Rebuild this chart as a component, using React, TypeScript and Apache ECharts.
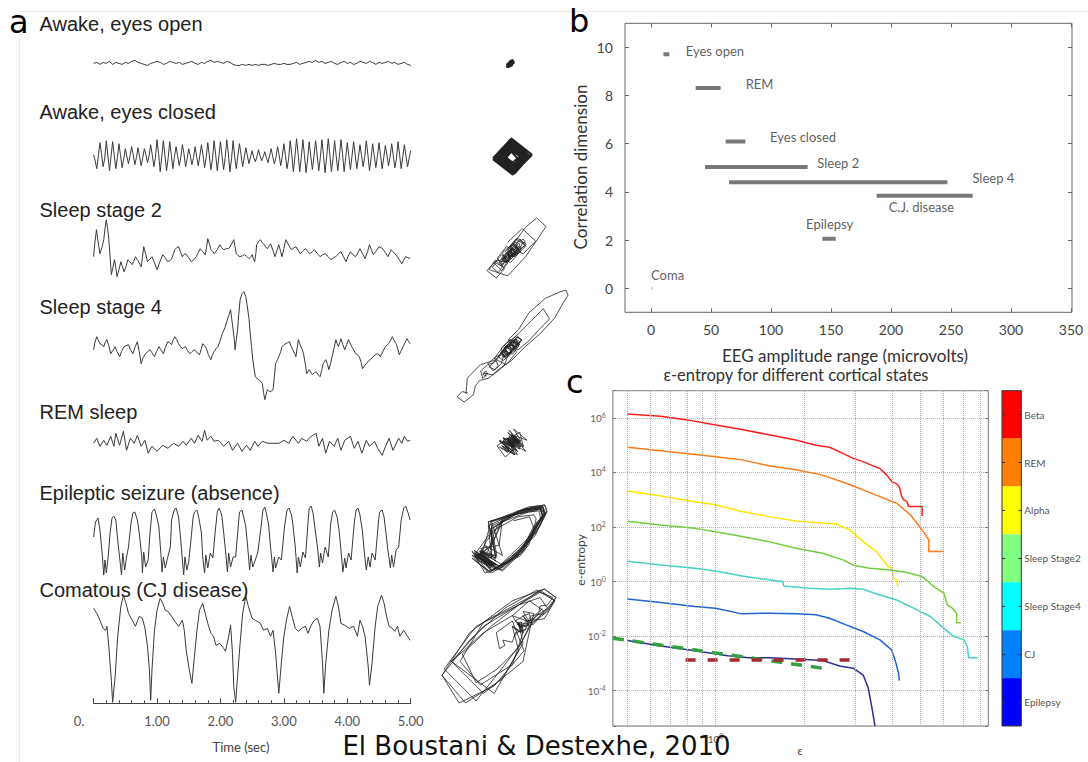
import React, { useEffect, useRef } from "react";
import * as echarts from "echarts";

const FONT_A = "'Liberation Sans', Arial, Helvetica, sans-serif";
const FONT_G = "Lato, 'Open Sans', sans-serif";
const FONT_D = "'DejaVu Sans', sans-serif";

/* ---------------- panel a : EEG traces (time in s, amplitude in a.u.) ---------------- */
const TRACE_NAMES = [
  "Awake, eyes open",
  "Awake, eyes closed",
  "Sleep stage 2",
  "Sleep stage 4",
  "REM sleep",
  "Epileptic seizure (absence)",
  "Comatous (CJ disease)",
];
const TIME_TICK_LABELS = ["0.", "1.00", "2.00", "3.00", "4.00", "5.00"];

// uniformly sampled over 0..5 s
const EYES_OPEN = [
  0, 1, -1, 1, 0, 2, -1, 1, 0, -1,
  1, 0, 2, 3, 1, 0, -1, -2, 0, 1,
  2, 1, -1, 0, 2, 1, 0, 1, -1, 0,
  1, 2, 0, -1, 1, 0, 2, 3, 1, 2,
  1, 0, 2, 1, -1, -2, -2, -1, -2, -1,
  -2, -1, -2, -1, -1, -2, -1, 0, -1, -1,
  0, -1, -1, 0, 1, -1, 0, 1, 2, 1,
  3, 1, 2, 0, 1, 2, 0, -1, 1, 2,
  0, 1, -1, 0, 2, 1, 0, 2, 1, -1,
  1, 0, 1, 2, 0, 1, -1, 0, 1, -1,
  -2,
];
const EYES_CLOSED = [
  2, -4, -12, 1, 14, 3, -10, -2, 16, 1, -14, 0, 15, 2, -12, -1, 13, 1, -11, -2,
  8, 0, -7, 1, 10, 2, -8, -1, 9, 0, -9, -1, 8, 2, -6, 1, 12, 2, -10, -1,
  17, 3, -15, 0, 16, 1, -14, -2, 15, 2, -12, 0, 10, 1, -9, -1, 12, 3, -10, -2,
  8, 1, -8, -1, 10, 0, -9, 1, 12, 2, -11, -1, 14, 1, -13, -2, 16, 2, -14, 0,
  15, 1, -13, -1, 17, 3, -15, -2, 16, 0, -12, 1, 13, 2, -10, -1, 9, 1, -7, 0,
  6, -1, -5, 0, 7, 1, -4, 0, 5, -1, -6, 1, 8, 0, -7, -1, 10, 2, -9, 0,
  13, 1, -12, -2, 16, 2, -15, 0, 18, 3, -15, -1, 17, 1, -16, -2, 15, 0, -13, 1,
  16, 2, -14, -1, 17, 1, -16, 0, 18, 2, -15, -2, 16, 1, -14, 0, 17, 3, -15, -1,
  14, 0, -13, 1, 15, 2, -12, -1, 12, 1, -10, 0, 16, 2, -14, -2, 13, 1, -11, 0,
  14, 1, -12, -1, 11, 2, -9, 0, 13, 1, -11, -2, 15, 2, -12, 0, 12, 1, -10, -2,
  6,
];
// [time s, amplitude]
const SLEEP_2 = [
  [0, 0], [0.02, 14], [0.045, 27], [0.07, 15], [0.1, 3], [0.13, 9], [0.16, 17], [0.18, 28], [0.2, 37],
  [0.22, 29], [0.24, 17], [0.26, 0], [0.28, -18], [0.3, -12], [0.33, -3], [0.35, -11], [0.37, -20],
  [0.4, -13], [0.43, -5], [0.45, -9], [0.48, -15], [0.51, -10], [0.54, -3], [0.57, -5], [0.61, -8],
  [0.63, -5], [0.66, 0], [0.7, -4], [0.75, -10], [0.77, -1], [0.79, 10], [0.82, 3], [0.85, -5], [0.88, -3],
  [0.92, 0], [0.96, -6], [1.0, -13], [1.04, -6], [1.09, 2], [1.13, -1], [1.17, -5], [1.2, -4], [1.23, -2],
  [1.26, 3], [1.28, 7], [1.31, 9], [1.34, 10], [1.37, 5], [1.4, 0], [1.42, 2], [1.45, 3], [1.5, -1],
  [1.54, -5], [1.58, -3], [1.62, 0], [1.65, 4], [1.68, 8], [1.72, 5], [1.76, 2], [1.78, 9], [1.8, 18],
  [1.83, 12], [1.85, 7], [1.88, 5], [1.9, 3], [1.95, 7], [1.99, 12], [2.02, 9], [2.05, 7], [2.09, 8],
  [2.13, 8], [2.17, 12], [2.21, 17], [2.23, 10], [2.25, 3], [2.28, 1], [2.31, 0], [2.35, 1], [2.38, 2],
  [2.42, 0], [2.45, -2], [2.48, 0], [2.5, 2], [2.52, -2], [2.54, -5], [2.56, 4], [2.57, 12], [2.6, 15],
  [2.63, 17], [2.66, 14], [2.68, 13], [2.71, 10], [2.74, 8], [2.77, 11], [2.79, 13], [2.83, 6], [2.86, 0],
  [2.89, 6], [2.92, 12], [2.95, 5], [2.97, 0], [3.0, 8], [3.03, 17], [3.08, 11], [3.12, 7], [3.16, 9],
  [3.19, 10], [3.23, 6], [3.26, 3], [3.3, 6], [3.34, 8], [3.38, 5], [3.41, 3], [3.45, 5], [3.48, 7],
  [3.53, 3], [3.57, 0], [3.61, 2], [3.65, 3], [3.7, 0], [3.74, -3], [3.78, -1], [3.82, 0], [3.86, 3],
  [3.9, 5], [3.94, 0], [3.98, -5], [4.01, 0], [4.05, 5], [4.09, 2], [4.13, 0], [4.17, 4], [4.2, 8],
  [4.24, 3], [4.28, -2], [4.32, 5], [4.35, 12], [4.38, 7], [4.41, 2], [4.46, 6], [4.5, 10], [4.53, 9],
  [4.56, 8], [4.6, 4], [4.64, 0], [4.67, 4], [4.69, 7], [4.72, 5], [4.75, 3], [4.79, 0], [4.82, -3],
  [4.84, -5], [4.86, -7], [4.89, -3], [4.92, 0], [4.96, -1], [4.99, -2],
];
const SLEEP_4 = [
  [0, -3], [0.02, 4], [0.05, 10], [0.07, 7], [0.1, 3], [0.13, 2], [0.16, 0], [0.18, 4], [0.21, 7], [0.24, 1],
  [0.27, -7], [0.3, -4], [0.34, 0], [0.37, -5], [0.41, -10], [0.44, -5], [0.48, 0], [0.51, 1], [0.55, 2],
  [0.58, -3], [0.62, -7], [0.65, -1], [0.69, 5], [0.72, -5], [0.75, -17], [0.78, -11], [0.82, -7], [0.85, -5],
  [0.89, -3], [0.92, -6], [0.96, -10], [0.99, -5], [1.03, 0], [1.06, -3], [1.1, -7], [1.13, -1], [1.17, 5],
  [1.2, 4], [1.23, 2], [1.25, 6], [1.28, 10], [1.31, 7], [1.34, 3], [1.37, 0], [1.4, -2], [1.42, -1],
  [1.45, 0], [1.48, -4], [1.52, -7], [1.55, -5], [1.59, -3], [1.63, -6], [1.67, -8], [1.7, -2], [1.72, 3],
  [1.75, 1], [1.78, -2], [1.81, -8], [1.85, -13], [1.87, -9], [1.9, -5], [1.93, -2], [1.96, 0], [2.0, 7],
  [2.03, 13], [2.07, 19], [2.1, 25], [2.13, 31], [2.16, 37], [2.18, 27], [2.2, 17], [2.22, 6], [2.23, -3],
  [2.25, 7], [2.27, 17], [2.29, 33], [2.31, 47], [2.34, 53], [2.37, 55], [2.4, 50], [2.42, 42], [2.45, 28],
  [2.47, 13], [2.49, 0], [2.51, -13], [2.53, -22], [2.55, -30], [2.58, -32], [2.61, -33], [2.64, -35],
  [2.66, -37], [2.68, -46], [2.7, -53], [2.72, -48], [2.74, -43], [2.76, -44], [2.78, -45], [2.81, -44],
  [2.83, -43], [2.85, -30], [2.87, -17], [2.9, -13], [2.92, -10], [2.95, -5], [2.97, 0], [3.0, 2], [3.03, 3],
  [3.06, 4], [3.09, 5], [3.11, 1], [3.14, -3], [3.17, -7], [3.19, -10], [3.21, -1], [3.23, 7], [3.25, 3],
  [3.27, 0], [3.29, -3], [3.31, -7], [3.34, -18], [3.36, -27], [3.38, -25], [3.4, -23], [3.43, -26],
  [3.45, -28], [3.48, -26], [3.51, -25], [3.54, -28], [3.57, -30], [3.6, -23], [3.62, -17], [3.64, -15],
  [3.66, -13], [3.69, -18], [3.71, -23], [3.74, -16], [3.76, -10], [3.79, -2], [3.82, 7], [3.84, 3],
  [3.86, 0], [3.88, 4], [3.9, 8], [3.93, 2], [3.96, -3], [3.99, 2], [4.02, 7], [4.05, 3], [4.07, 0],
  [4.1, -3], [4.13, -7], [4.16, -8], [4.19, -10], [4.22, -16], [4.24, -22], [4.27, -19], [4.3, -17],
  [4.34, -14], [4.38, -12], [4.42, -9], [4.47, -7], [4.5, -8], [4.52, -10], [4.56, -5], [4.6, 0], [4.63, 2],
  [4.65, 3], [4.68, 6], [4.71, 10], [4.74, 6], [4.77, 3], [4.8, -3], [4.82, -8], [4.85, -4], [4.88, 0],
  [4.91, 4], [4.94, 8], [4.97, 5], [4.99, 3],
];
const REM_SLEEP = [
  [0, 0], [0.05, 5], [0.1, -3], [0.16, 3], [0.21, -2], [0.27, 7], [0.32, -3], [0.35, 10], [0.41, -2],
  [0.47, 12], [0.52, -7], [0.58, 5], [0.64, 0], [0.69, 8], [0.75, -3], [0.81, 3], [0.86, -10], [0.92, -3],
  [1.0, -8], [1.09, -2], [1.17, -5], [1.26, 0], [1.34, -3], [1.41, 2], [1.46, -2], [1.54, 5], [1.59, 0],
  [1.65, 8], [1.71, 2], [1.75, 13], [1.79, 3], [1.85, 7], [1.9, 2], [1.97, 3], [2.05, -3], [2.13, 2],
  [2.19, -7], [2.27, 0], [2.34, -8], [2.41, -2], [2.47, -7], [2.54, 2], [2.59, -3], [2.66, 2], [2.75, 0],
  [2.83, 0], [2.92, 0], [3.0, 3], [3.08, 0], [3.14, 7], [3.23, 0], [3.28, 5], [3.36, 2], [3.43, 7],
  [3.51, 10], [3.55, -3], [3.61, 5], [3.66, -10], [3.72, 2], [3.79, -3], [3.85, 5], [3.9, -7], [3.96, 3],
  [4.05, 7], [4.11, -5], [4.17, 2], [4.23, -10], [4.3, 3], [4.35, -3], [4.43, 2], [4.48, -5], [4.55, -12],
  [4.61, -2], [4.66, 5], [4.72, -7], [4.81, 5], [4.86, 0], [4.9, 7], [4.95, 2], [4.99, 3],
];
const EPILEPTIC = [
  [0, 3], [0.03, 18], [0.07, 22], [0.1, 10], [0.14, -17], [0.16, -35], [0.18, -20], [0.2, -33], [0.23, -17], [0.26, 7],
  [0.29, 22], [0.32, 24], [0.35, 20], [0.38, 0], [0.42, -23], [0.44, -35], [0.46, -13], [0.49, -30], [0.52, -17], [0.55, -7], [0.59, 17],
  [0.62, 27], [0.65, 28], [0.69, 20], [0.72, 7], [0.76, -17], [0.77, -33], [0.79, -12], [0.82, -27], [0.86, -20], [0.89, 7],
  [0.92, 28], [0.96, 31], [0.99, 25], [1.03, 13], [1.06, -13], [1.08, -32], [1.1, -17], [1.13, -28], [1.17, -17], [1.21, -7], [1.23, 20],
  [1.27, 30], [1.3, 32], [1.34, 23], [1.37, 3], [1.4, -20], [1.42, -35], [1.44, -17], [1.47, -30], [1.5, -22], [1.53, -3], [1.57, 23],
  [1.59, 28], [1.63, 30], [1.66, 22], [1.7, 7], [1.72, -17], [1.75, -33], [1.77, -15], [1.8, -28], [1.84, -13], [1.88, -18], [1.92, 10],
  [1.95, 28], [1.98, 32], [2.02, 25], [2.05, 8], [2.09, -17], [2.11, -32], [2.13, -13], [2.16, -27], [2.2, -17], [2.24, -17], [2.28, 13],
  [2.3, 28], [2.34, 30], [2.37, 22], [2.4, 13], [2.43, -7], [2.46, -30], [2.48, -15], [2.51, -27], [2.55, -20], [2.59, -12], [2.64, 13],
  [2.67, 30], [2.7, 33], [2.73, 25], [2.76, 15], [2.79, -7], [2.83, -32], [2.85, -17], [2.87, -28], [2.92, -17], [2.96, -20], [3.01, 13],
  [3.05, 30], [3.08, 32], [3.12, 25], [3.14, 17], [3.18, -7], [3.21, -33], [3.23, -17], [3.26, -27], [3.3, -12], [3.34, -18], [3.38, 17],
  [3.4, 32], [3.43, 34], [3.46, 27], [3.49, 12], [3.53, -7], [3.56, -27], [3.58, -13], [3.61, -23], [3.65, -7], [3.7, -17], [3.74, 17],
  [3.77, 28], [3.8, 30], [3.84, 23], [3.87, 10], [3.9, -10], [3.93, -32], [3.96, -18], [3.98, -28], [4.02, -13], [4.06, -20], [4.11, 17],
  [4.14, 30], [4.17, 32], [4.2, 25], [4.24, 8], [4.27, -13], [4.3, -30], [4.33, -17], [4.36, -27], [4.39, -13], [4.44, -20], [4.49, 17],
  [4.51, 28], [4.55, 30], [4.58, 23], [4.61, 7], [4.64, -10], [4.68, -28], [4.7, -15], [4.73, -27], [4.77, -10], [4.81, -7], [4.85, 20],
  [4.89, 32], [4.92, 34], [4.96, 27], [4.99, 20],
];
const COMATOUS = [
  [0, 95], [0.05, 90], [0.1, 83], [0.15, 75], [0.19, 73], [0.21, 77], [0.24, 57], [0.28, 23], [0.3, 1], [0.34, 27],
  [0.38, 67], [0.43, 97], [0.47, 108], [0.51, 100], [0.55, 90], [0.61, 83], [0.66, 77], [0.72, 87], [0.77, 85],
  [0.81, 75], [0.85, 57], [0.88, 33], [0.9, 3], [0.92, 33], [0.96, 73], [1.0, 93], [1.05, 105], [1.09, 100],
  [1.13, 93], [1.17, 92], [1.23, 87], [1.28, 82], [1.34, 77], [1.4, 83], [1.43, 73], [1.46, 53], [1.51, 33],
  [1.55, 20], [1.59, 47], [1.63, 73], [1.67, 93], [1.72, 100], [1.76, 90], [1.8, 80], [1.85, 70], [1.89, 67],
  [1.93, 58], [1.99, 60], [2.05, 55], [2.08, 52], [2.13, 67], [2.16, 78], [2.19, 50], [2.21, 17], [2.24, 1],
  [2.27, 27], [2.31, 60], [2.35, 90], [2.4, 107], [2.44, 97], [2.5, 85], [2.55, 83], [2.63, 80], [2.68, 73],
  [2.74, 75], [2.79, 67], [2.83, 73], [2.87, 50], [2.92, 10], [2.96, 40], [3.0, 67], [3.04, 83], [3.09, 97],
  [3.13, 87], [3.18, 75], [3.23, 72], [3.28, 75], [3.34, 77], [3.38, 70], [3.43, 78], [3.48, 83], [3.53, 85],
  [3.57, 77], [3.61, 40], [3.63, 10], [3.66, 40], [3.71, 73], [3.76, 93], [3.82, 107], [3.86, 97], [3.9, 80],
  [3.96, 78], [4.03, 75], [4.1, 77], [4.16, 67], [4.2, 83], [4.24, 77], [4.28, 67], [4.33, 37], [4.35, 18],
  [4.39, 40], [4.44, 77], [4.48, 97], [4.54, 108], [4.58, 100], [4.62, 87], [4.66, 77], [4.71, 75], [4.75, 72],
  [4.79, 77], [4.83, 67], [4.89, 73], [4.94, 68], [4.99, 63],
];

/* ---------------- panel b ---------------- */
const B_STATES = ["Eyes open", "REM", "Eyes closed", "Sleep 2", "Sleep 4", "C.J. disease", "Epilepsy", "Coma"];
const B_AMP_LOW = [10.3, 37.2, 62.2, 45, 65, 188, 142.8, 0];
const B_AMP_HIGH = [15.3, 58, 78.6, 130.5, 247, 268, 153.9, 1.1];
const B_CORR_DIM = [9.72, 8.31, 6.09, 5.03, 4.4, 3.84, 2.05, 0];
const B_LABEL_AMP = [28.9, 78.9, 99.2, 138.6, 267.8, 198, 129.2, 0];
const B_LABEL_DIM = [9.86, 8.48, 6.27, 5.19, 4.57, 3.37, 2.66, 0.55];
const B_X_TICKS = [0, 50, 100, 150, 200, 250, 300, 350];
const B_Y_TICKS = [0, 2, 4, 6, 8, 10];

/* ---------------- panel c : [epsilon, entropy] ---------------- */
const C_STATES = ["Beta", "REM", "Alpha", "Sleep Stage2", "Sleep Stage4", "CJ", "Epilepsy"];
const C_BAR_COLORS = ["#ff0000", "#ff8000", "#ffff00", "#80ff80", "#00ffff", "#0080ff", "#0000ff"];
const C_LINE_COLORS = ["#ff1f1f", "#ff7a1a", "#ffe600", "#74cd3c", "#45d2c4", "#2164d2", "#2d2d96"];
const C_BETA = [[0.5, 1.4e6], [0.65, 1.15e6], [0.8, 8.5e5], [1.0, 5.5e5], [1.23, 3.8e5], [1.52, 2.4e5], [1.88, 1.55e5], [2.2, 1.0e5], [2.45, 8.4e4], [2.72, 5.0e4], [2.95, 3.3e4], [3.19, 2.5e4], [3.45, 1.75e4], [3.64, 1.4e4], [3.84, 8.0e3], [4.0, 4.6e3], [4.15, 3.8e3], [4.24, 3.0e3], [4.32, 1.3e3], [4.38, 1.0e3], [4.5, 850], [4.56, 560], [4.75, 560], [4.93, 560], [5.07, 560], [5.07, 255]];
const C_REM = [[0.5, 8.4e4], [0.65, 6.3e4], [0.85, 4.6e4], [1.0, 3.8e4], [1.23, 2.9e4], [1.52, 1.75e4], [1.88, 1.25e4], [2.32, 8.0e3], [2.79, 4.0e3], [3.19, 2.3e3], [3.64, 1.3e3], [4.15, 740], [4.62, 280], [5.07, 78], [5.34, 34], [5.34, 12.5], [6.02, 12.5]];
const C_ALPHA = [[0.5, 2.1e3], [0.65, 1.38e3], [0.85, 850], [1.0, 650], [1.23, 370], [1.52, 240], [1.88, 166], [2.2, 145], [2.58, 129], [2.87, 78], [3.19, 29], [3.54, 12.5], [3.89, 3.5], [3.99, 3.1], [4.05, 1.3], [4.15, 1.15], [4.19, 0.65]];
const C_STAGE2 = [[0.5, 162], [0.65, 119], [0.85, 89], [1.0, 67], [1.23, 44.5], [1.52, 29], [1.88, 16.6], [2.32, 10.9], [2.72, 6.2], [2.98, 3.84], [3.36, 3.07], [3.94, 2.66], [4.5, 2.13], [5.07, 1.52], [5.56, 0.65], [6.02, 0.37], [6.18, 0.139], [6.43, 0.105], [6.65, 0.069], [6.65, 0.031], [6.87, 0.031]];
const C_STAGE4 = [[0.5, 5.5], [0.65, 4.06], [0.85, 3.07], [1.0, 2.45], [1.23, 1.6], [1.52, 1.15], [1.69, 1.0], [1.71, 0.69], [2.09, 0.57], [2.45, 0.52], [2.87, 0.57], [3.19, 0.52], [3.64, 0.32], [4.15, 0.21], [4.74, 0.105], [5.41, 0.052], [6.02, 0.019], [6.51, 0.0095], [7.05, 0.0072], [7.24, 0.0041], [7.3, 0.0016], [7.84, 0.0016]];
const C_CJ = [[0.5, 0.23], [0.65, 0.169], [0.85, 0.12], [1.0, 0.105], [1.23, 0.065], [1.52, 0.069], [1.88, 0.065], [2.2, 0.06], [2.45, 0.045], [2.79, 0.0256], [3.19, 0.0146], [3.64, 0.0072], [3.99, 0.0031], [4.1, 0.0013], [4.21, 4.4e-4], [4.24, 2.3e-4]];
const C_EPILEPSY = [[0.5, 0.0068], [0.65, 0.0043], [0.85, 0.0029], [1.1, 0.0019], [1.3, 0.0016], [1.52, 0.0016], [1.88, 0.00145], [2.32, 0.00126], [2.65, 8e-4], [2.95, 6.6e-4], [3.19, 3.7e-4], [3.32, 1.23e-4], [3.41, 2.6e-5], [3.5, 5e-6]];
const C_FIT_GREEN = [[0.446, 0.0083], [2.41, 6.2e-4]];
const C_FIT_RED = [[0.79, 1.33e-3], [3.02, 1.33e-3]];
const C_EPS_GRID = [0.5, 0.6, 0.7, 0.8, 0.9, 1, 2, 3, 4, 5, 6, 7, 8];

/* ---------------- layout (pixels) ---------------- */
const A_LEFT = 93.6;
const A_RIGHT = 410.7;
const A_ROWS = [
  { base: 63.4, min: -4, max: 4, label: 23.7, box: [507, 60, 7, 7], lag: 1, w: 2 },
  { base: 156.7, min: -19, max: 19, label: 112.3, box: [493, 138, 39, 37], lag: 1, w: 1.2 },
  { base: 256.7, min: -22, max: 38, label: 209.7, box: [487, 218, 59, 60], lag: 1, w: 0.8 },
  { base: 346.7, min: -56, max: 57, label: 307, box: [457, 290, 111, 112], lag: 1, w: 0.8 },
  { base: 443.3, min: -15, max: 15, label: 412.3, box: [497, 429, 30, 28], lag: 1, w: 0.8 },
  { base: 540, min: -37, max: 35, label: 493, box: [472, 505, 75, 68], lag: 1, w: 0.8 },
  { base: 703.3, min: 0, max: 112, label: 590.3, box: [442, 589, 114, 114], lag: 1, w: 0.8 },
];

const uniform = (vals: number[]) => vals.map((v, i) => [(i * 5) / (vals.length - 1), v]);
const embed = (vals: number[], lag: number) =>
  vals.slice(0, vals.length - lag).map((v, i) => [v, vals[i + lag]]);

const powLabel = (v: number) => {
  const e = Math.log10(v);
  const r = Math.round(e);
  if (Math.abs(e - r) > 0.01 || r % 2 !== 0) return "";
  return "10{s|" + r + "}";
};

function buildOption() {
  const grid: any[] = [];
  const xAxis: any[] = [];
  const yAxis: any[] = [];
  const series: any[] = [];
  const add = (g: any, xs: any[], ys: any[]) => {
    grid.push(g);
    const gi = grid.length - 1;
    const xi = xAxis.length;
    xs.forEach((a) => xAxis.push({ ...a, gridIndex: gi }));
    const yi = yAxis.length;
    ys.forEach((a) => yAxis.push({ ...a, gridIndex: gi }));
    return { xi, yi };
  };

  const traces: number[][][] = [
    uniform(EYES_OPEN),
    uniform(EYES_CLOSED),
    SLEEP_2,
    SLEEP_4,
    REM_SLEEP,
    EPILEPTIC,
    COMATOUS,
  ];

  traces.forEach((tr, k) => {
    const row = A_ROWS[k];
    const last = k === traces.length - 1;
    const xa = last
      ? {
          type: "value", min: 0, max: 5, interval: 1,
          axisLine: { show: true, onZero: false, lineStyle: { color: "#444", width: 1 } },
          axisTick: { show: true, inside: true, length: 5, lineStyle: { color: "#444" } },
          minorTick: { show: true, splitNumber: 5, length: 3, lineStyle: { color: "#444" } },
          axisLabel: {
            color: "#555", fontSize: 13, fontFamily: FONT_G, margin: 11,
            formatter: (v: number) => {
              const i = Math.round(v);
              if (Math.abs(v - i) > 1e-6) return "";
              return i === 0 ? "{z|" + TIME_TICK_LABELS[0] + "}" : TIME_TICK_LABELS[i];
            },
            rich: { z: { color: "#555", fontSize: 13, fontFamily: FONT_G, padding: [0, 29, 0, 0] } },
          },
          splitLine: { show: false },
        }
      : { type: "value", min: 0, max: 5, show: false };
    const ax = add(
      { left: A_LEFT, width: A_RIGHT - A_LEFT, top: row.base - row.max, height: row.max - row.min },
      [xa],
      [{ type: "value", min: row.min, max: row.max, show: false }]
    );
    series.push({
      type: "line", xAxisIndex: ax.xi, yAxisIndex: ax.yi, data: tr, symbol: "none", clip: false,
      lineStyle: { color: "#3a3a3a", width: 1 }, silent: true,
    });
    // phase portrait (delay embedding of the same trace)
    const vals = tr.map((p) => p[1]);
    const [bl, bt, bw, bh] = row.box;
    const px = add(
      { left: bl, top: bt, width: bw, height: bh },
      [{ type: "value", min: "dataMin", max: "dataMax", scale: true, show: false }],
      [{ type: "value", min: "dataMin", max: "dataMax", scale: true, show: false }]
    );
    series.push({
      type: "line", xAxisIndex: px.xi, yAxisIndex: px.yi, data: embed(vals, row.lag), symbol: "none",
      clip: false, lineStyle: { color: "#222", width: row.w }, silent: true,
    });
  });

  /* ---- panel b ---- */
  const bTickX = { show: true, inside: true, length: 4, customValues: B_X_TICKS, lineStyle: { color: "#666" } };
  const bTickY = { show: true, inside: true, length: 4, customValues: B_Y_TICKS, lineStyle: { color: "#666" } };
  const noLine = { show: false, onZero: false };
  const b = add(
    { left: 625, top: 23.3, width: 447, height: 289, show: true, borderColor: "#666", borderWidth: 1, backgroundColor: "transparent" },
    [
      {
        type: "value", min: -21.7, max: 350.8, position: "bottom", axisLine: noLine, axisTick: bTickX,
        axisLabel: { customValues: B_X_TICKS, color: "#444", fontSize: 14, fontFamily: FONT_G, margin: 10 },
        splitLine: { show: false },
      },
      {
        type: "value", min: -21.7, max: 350.8, position: "top", axisLine: noLine, axisTick: bTickX,
        axisLabel: { show: false }, splitLine: { show: false },
      },
    ],
    [
      {
        type: "value", min: -1, max: 11, position: "left", axisLine: noLine, axisTick: bTickY,
        axisLabel: { customValues: B_Y_TICKS, color: "#444", fontSize: 14, fontFamily: FONT_G, margin: 12 },
        splitLine: { show: false },
      },
      {
        type: "value", min: -1, max: 11, position: "right", axisLine: noLine, axisTick: bTickY,
        axisLabel: { show: false }, splitLine: { show: false },
      },
    ]
  );
  B_STATES.forEach((name, i) => {
    series.push({
      type: "line", name, xAxisIndex: b.xi, yAxisIndex: b.yi, symbol: "none", silent: true,
      data: [[B_AMP_LOW[i], B_CORR_DIM[i]], [B_AMP_HIGH[i], B_CORR_DIM[i]]],
      lineStyle: { color: name === "Coma" ? "#c8c8c8" : "#777", width: name === "Coma" ? 3 : 4, cap: "butt" },
    });
  });
  series.push({
    type: "scatter", xAxisIndex: b.xi, yAxisIndex: b.yi, symbolSize: 0, silent: true,
    data: B_STATES.map((n, i) => ({ name: n, value: [B_LABEL_AMP[i], B_LABEL_DIM[i]] })),
    label: { show: true, position: "right", distance: 0, formatter: "{b}", color: "#333", fontSize: 13, fontFamily: FONT_G },
  });

  /* ---- panel c ---- */
  const c = add(
    { left: 612.9, top: 390.7, width: 375.4, height: 335.3, show: true, borderColor: "#777", borderWidth: 1, backgroundColor: "transparent" },
    [
      {
        type: "log", logBase: 10, min: 0.446, max: 8.53, axisLine: { show: false, onZero: false }, axisTick: { show: false },
        axisLabel: {
          color: "#555", fontSize: 10, fontFamily: FONT_G, margin: 6,
          formatter: (v: number) => (Math.abs(v - 1) < 1e-6 ? "10{s|0}" : ""),
          rich: { s: { fontSize: 7, color: "#555", padding: [0, 0, 6, 0] } },
        },
        splitLine: { show: false },
      },
    ],
    [
      {
        type: "log", logBase: 100, min: 5e-6, max: 1e7, axisLine: { show: false, onZero: false },
        axisTick: { show: true, inside: true, length: 3, lineStyle: { color: "#777" } },
        axisLabel: {
          color: "#666", fontSize: 10, fontFamily: FONT_G, margin: 7, formatter: powLabel,
          rich: { s: { fontSize: 7, color: "#666", padding: [0, 0, 6, 0] } },
        },
        splitLine: { show: true, lineStyle: { type: "dotted", color: "#aaa", width: 1 } },
      },
      {
        type: "log", logBase: 100, min: 5e-6, max: 1e7, position: "right", axisLine: { show: false, onZero: false },
        axisTick: { show: true, inside: true, length: 3, lineStyle: { color: "#777" } },
        axisLabel: { show: false }, splitLine: { show: false },
      },
    ]
  );
  const curves = [C_BETA, C_REM, C_ALPHA, C_STAGE2, C_STAGE4, C_CJ, C_EPILEPSY];
  curves.forEach((d, i) => {
    series.push({
      type: "line", name: C_STATES[i], xAxisIndex: c.xi, yAxisIndex: c.yi, data: d, symbol: "none", silent: true,
      lineStyle: { color: C_LINE_COLORS[i], width: 1.5 },
      markLine: i === 0
        ? {
            silent: true, symbol: ["none", "none"], label: { show: false }, animation: false,
            lineStyle: { type: "dotted", color: "#aaa", width: 1 },
            data: C_EPS_GRID.map((v) => ({ xAxis: v })),
          }
        : undefined,
    });
  });
  series.push({
    type: "line", xAxisIndex: c.xi, yAxisIndex: c.yi, data: C_FIT_GREEN, symbol: "none", silent: true,
    lineStyle: { color: "#33a040", width: 3.5, type: [11, 9] },
  });
  series.push({
    type: "line", xAxisIndex: c.xi, yAxisIndex: c.yi, data: C_FIT_RED, symbol: "none", silent: true,
    lineStyle: { color: "#a8282e", width: 3.5, type: [10, 12] },
  });

  /* ---- colour bar ---- */
  const cb = add(
    { left: 1002, top: 390.7, width: 19.3, height: 335.3 },
    [{ type: "value", min: 0, max: 1, show: false }],
    [
      {
        type: "category", data: C_STATES, inverse: true, position: "right", z: 5, axisLine: { show: false, onZero: false },
        axisTick: { show: true, inside: true, alignWithLabel: true, length: 3, lineStyle: { color: "#333" } },
        axisLabel: { color: "#555", fontSize: 10, fontFamily: FONT_G, margin: 3 },
      },
      {
        type: "category", data: C_STATES, inverse: true, position: "left", z: 5, axisLine: { show: false, onZero: false },
        axisTick: { show: true, inside: true, alignWithLabel: true, length: 3, lineStyle: { color: "#333" } },
        axisLabel: { show: false },
      },
    ]
  );
  series.push({
    type: "bar", xAxisIndex: cb.xi, yAxisIndex: cb.yi, silent: true, barWidth: "100%", barCategoryGap: "0%",
    data: C_BAR_COLORS.map((col) => ({ value: 1, itemStyle: { color: col } })),
  });

  const txt = (text: string, x: number, y: number, size: number, font: string, fill: string, align = "left", rotation = 0) => ({
    type: "text", x, y, rotation, silent: true, z: 50,
    style: { text, fontSize: size, fontFamily: font, fill, align, verticalAlign: "middle" },
  });

  const graphic: any[] = [
    { type: "line", silent: true, shape: { x1: 19.6, y1: 11.7, x2: 1088, y2: 11.7 }, style: { stroke: "#e8e8e8", lineWidth: 1 } },
    { type: "line", silent: true, shape: { x1: 19.6, y1: 11.7, x2: 19.6, y2: 762 }, style: { stroke: "#e8e8e8", lineWidth: 1 } },
    txt("a", 9, 22, 32, FONT_D, "#000"),
    txt("b", 569, 21, 32, FONT_D, "#000"),
    txt("c", 566, 382, 32, FONT_D, "#000"),
    ...TRACE_NAMES.map((n, k) => txt(n, 39.5, A_ROWS[k].label, 20, FONT_A, "#222")),
    txt("Time (sec)", 241, 747, 13, FONT_G, "#444", "center"),
    txt("Correlation dimension", 580, 167, 17, FONT_G, "#333", "center", Math.PI / 2),
    txt("EEG amplitude range (microvolts)", 845, 355, 17, FONT_G, "#333", "center"),
    txt("ε-entropy for different cortical states", 796, 375, 16.5, FONT_G, "#333", "center"),
    txt("e-entropy", 580, 560, 12, FONT_G, "#444", "center", Math.PI / 2),
    txt("ε", 800, 750, 11, FONT_G, "#444", "center"),
    txt("El Boustani & Destexhe, 2010", 536.5, 746, 26, FONT_D, "#111", "center"),
    {
      type: "rect", silent: true, z: 60, shape: { x: 1002, y: 390.7, width: 19.3, height: 335.3 },
      style: { fill: "none", stroke: "#333", lineWidth: 1 },
    },
  ];

  return {
    animation: false,
    backgroundColor: "#ffffff",
    grid,
    xAxis,
    yAxis,
    series,
    graphic,
  };
}

export default function App() {
  const ref = useRef<HTMLDivElement>(null);
  useEffect(() => {
    if (!ref.current) return;
    const chart = echarts.init(ref.current, null, { renderer: "svg" });
    chart.setOption(buildOption() as any);
    return () => chart.dispose();
  }, []);
  return (
    <div
      ref={ref}
      style={{ position: "fixed", left: 0, top: 0, width: 1088, height: 762, background: "#fff" }}
    />
  );
}
